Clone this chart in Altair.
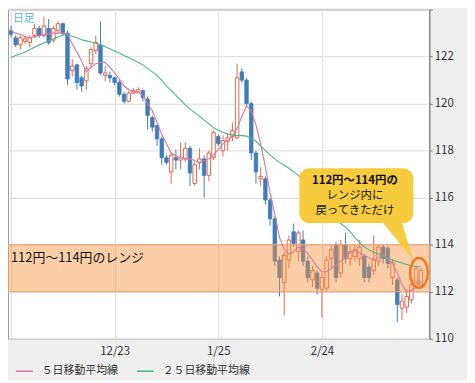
import altair as alt
import pandas as pd

FONT = "Noto Sans CJK JP"

# ---- OHLC data (daily candles) ----
opens = [123.1, 122.8, 122.5, 122.65, 122.6, 122.9, 123.2, 122.9, 123.2, 122.7,
         123.1, 123.4, 123.0, 121.4, 121.65, 121.1, 120.97, 121.7, 122.25, 122.5,
         121.2, 121.2, 121.1, 120.9, 120.4, 120.1, 120.45, 120.5, 120.55, 120.2,
         119.4, 119.07, 118.5, 117.7, 117.1, 117.7, 117.6, 117.65, 118.1, 116.6,
         117.5, 117.65, 116.95, 117.7, 118.6, 118.0, 118.4, 118.6, 118.55, 121.35,
         121.0, 120.0, 117.9, 116.8, 116.8, 115.9, 115.1, 113.35, 112.4, 113.35,
         114.55, 113.7, 114.2, 113.3, 112.5, 112.8, 112.1, 112.15, 113.4, 114.0,
         112.8, 114.0, 113.4, 113.5, 113.4, 113.5, 113.05, 112.9, 113.3, 113.9,
         113.85, 112.6, 112.5, 111.3, 111.35, 111.65, 112.4, 112.3]
highs = [123.3, 122.9, 122.9, 122.85, 122.9, 123.4, 123.3, 123.7, 123.6, 123.3,
         123.5, 123.45, 123.1, 121.9, 121.7, 121.2, 121.6, 122.4, 122.9, 123.5,
         121.6, 121.35, 121.15, 121.0, 120.5, 120.55, 120.65, 120.7, 120.6, 120.3,
         119.5, 119.1, 118.6, 117.8, 117.9, 118.05, 118.35, 118.35, 118.2, 117.5,
         118.1, 117.8, 118.0, 118.85, 118.7, 118.65, 118.75, 119.2, 121.7, 121.5,
         121.1, 120.1, 118.0, 117.3, 116.9, 116.0, 115.2, 113.5, 113.7, 114.4,
         114.9, 114.6, 114.6, 113.5, 113.1, 112.9, 112.8, 113.5, 114.0, 114.1,
         114.2, 114.5, 113.95, 114.0, 114.2, 113.6, 113.2, 114.4, 114.0, 114.0,
         113.95, 113.4, 112.6, 111.9, 112.1, 112.4, 113.1, 113.0]
lows = [122.8, 122.4, 122.3, 122.55, 122.4, 122.8, 122.8, 122.8, 122.5, 122.6,
        123.0, 122.9, 120.8, 121.15, 120.6, 120.5, 120.6, 121.5, 122.1, 121.2,
        120.95, 120.9, 120.8, 120.3, 120.0, 120.05, 120.4, 120.45, 120.1, 118.9,
        118.8, 118.2, 117.4, 117.4, 116.6, 117.2, 117.2, 117.5, 116.5, 116.5,
        117.2, 116.0, 116.7, 117.6, 118.2, 117.75, 118.0, 118.4, 118.5, 120.9,
        119.9, 117.6, 116.6, 116.5, 115.7, 114.8, 113.1, 111.8, 111.0, 113.0,
        113.9, 113.3, 113.1, 112.4, 112.2, 111.9, 110.9, 112.0, 113.0, 112.4,
        112.6, 113.2, 113.1, 113.3, 113.1, 112.4, 112.4, 112.7, 113.1, 113.2,
        113.0, 112.3, 110.7, 110.8, 111.1, 111.5, 112.3, 112.2]
closes = [122.95, 122.5, 122.8, 122.75, 122.8, 123.2, 122.9, 123.3, 122.6, 123.2,
          123.4, 123.0, 121.05, 121.6, 120.9, 120.75, 121.5, 122.3, 122.6, 121.3,
          121.3, 121.1, 120.9, 120.4, 120.1, 120.45, 120.55, 120.6, 120.25, 119.5,
          119.0, 118.5, 117.7, 117.5, 117.8, 117.6, 117.7, 118.1, 117.05, 117.4,
          117.65, 116.95, 117.9, 118.77, 118.3, 118.43, 118.55, 118.85, 121.1, 121.0,
          120.0, 117.9, 117.1, 116.9, 115.9, 115.1, 113.3, 112.6, 113.55, 114.2,
          114.05, 114.5, 113.3, 112.6, 112.9, 112.15, 112.6, 113.35, 113.8, 112.6,
          114.0, 113.4, 113.7, 113.8, 113.9, 112.6, 112.6, 113.35, 113.9, 113.4,
          113.2, 113.25, 111.45, 111.6, 111.8, 112.3, 113.0, 112.9]

# ---- moving averages as drawn ----
ma5_vals = [123.1, 123.0, 122.95, 122.85, 122.8, 122.85, 122.9, 122.95, 122.98, 123.0,
            123.0, 123.0, 122.95, 122.55, 122.2, 121.8, 121.35, 121.55, 121.7, 121.75,
            121.75, 121.55, 121.3, 121.05, 120.75, 120.6, 120.5, 120.48, 120.35, 120.0,
            119.7, 119.2, 118.7, 118.3, 117.9, 117.78, 117.7, 117.65, 117.65, 117.58,
            117.5, 117.57, 117.65, 117.8, 118.05, 118.3, 118.45, 118.6, 118.95, 119.45,
            119.9, 119.7, 119.1, 118.3, 117.3, 116.2, 115.3, 114.3, 113.8, 113.6,
            113.7, 113.9, 113.8, 113.63, 113.35, 113.06, 112.85, 112.85, 113.0, 113.15,
            113.3, 113.45, 113.65, 113.75, 113.65, 113.55, 113.45, 113.35, 113.45, 113.56,
            113.4, 113.2, 112.8, 112.3, 112.0, 112.05, 112.2, 112.45]
ma25_vals = [121.95, 122.05, 122.12, 122.2, 122.3, 122.4, 122.5, 122.58, 122.66, 122.75,
             122.85, 122.92, 122.93, 122.87, 122.8, 122.72, 122.67, 122.62, 122.57, 122.5,
             122.42, 122.33, 122.24, 122.15, 122.05, 121.95, 121.87, 121.75, 121.65, 121.5,
             121.35, 121.2, 121.0, 120.75, 120.55, 120.35, 120.15, 119.95, 119.78, 119.62,
             119.47, 119.3, 119.15, 118.97, 118.87, 118.78, 118.71, 118.66, 118.64, 118.64,
             118.62, 118.52, 118.4, 118.2, 118.0, 117.82, 117.65, 117.5, 117.38, 117.25,
             117.1, 116.95, 116.75, 116.5, 116.3, 116.05, 115.8, 115.55, 115.3, 115.1,
             114.9, 114.75, 114.55, 114.3, 114.1, 113.9, 113.78, 113.68, 113.6, 113.5,
             113.42, 113.35, 113.28, 113.22, 113.16, 113.1, 113.07, 113.06]

MA5_NAME = "５日移動平均線"
MA25_NAME = "２５日移動平均線"

x_tick_idx = [22, 44, 66]
x_tick_labels = ["12/23", "1/25", "2/24"]
y_ticks = [110, 112, 114, 116, 118, 120, 122, 124]
band_range = [112, 114]
band_label = "112円～114円のレンジ"
callout_lines = ["112円～114円の", "レンジ内に", "戻ってきただけ"]
period_label = "日足"

# annotation anchors (data units: candle index / price)
callout_box_x = [61.2, 85.4]
callout_box_y = [114.92, 117.25]
callout_text_x = [73.0, 73.0, 73.0]
callout_text_y = [116.70, 116.05, 115.42]
pointer_x = [78.7, 82.9, 85.3]
pointer_top = [115.0, 115.0, 113.39]
pointer_bot = [115.0, 113.96, 113.39]
circle_at = [86.6, 112.8]

UP = "#E2664F"
DOWN = "#3F7DBA"
PINK = "#D8779E"
GREEN = "#4DB784"
BAND = "#F7923F"
YELLOW = "#F7CB3E"
GRID = "#DCDCDC"

n = len(opens)
df = pd.DataFrame({"idx": list(range(n)), "open": opens, "high": highs,
                   "low": lows, "close": closes,
                   MA5_NAME: ma5_vals, MA25_NAME: ma25_vals})

xs = alt.Scale(domain=[-0.63, 88.8], nice=False, zero=False)
ys = alt.Scale(domain=[110, 124], nice=False, zero=False)

label_expr = " : ".join(
    [f"datum.value == {v} ? '{t}'" for v, t in zip(x_tick_idx, x_tick_labels)]) + " : ''"

x_axis = alt.Axis(values=[0] + x_tick_idx, labelExpr=label_expr, grid=True,
                  gridColor=GRID, ticks=False, domain=False, title=None,
                  labelFont=FONT, labelFontSize=11.5, labelColor="#333",
                  labelPadding=7)
y_axis = alt.Axis(orient="right", values=y_ticks, format="d",
                  labelExpr="datum.value >= 124 ? '' : datum.label",
                  grid=True, gridColor=GRID, domainColor="#777", tickColor="#777",
                  tickSize=3, title=None, labelFont=FONT, labelFontSize=11.5,
                  labelColor="#333", labelPadding=2)


def X(field):
    return alt.X(field, scale=xs, axis=x_axis)


def Y(field):
    return alt.Y(field, scale=ys, axis=y_axis)


base = alt.Chart(df)

wicks = base.mark_rule(strokeWidth=1).encode(
    x=X("idx:Q"), y=Y("low:Q"), y2="high:Q",
    color=alt.condition("datum.close >= datum.open", alt.value(UP), alt.value(DOWN)),
)

bodies = base.transform_calculate(
    x0="datum.idx - 0.37", x1="datum.idx + 0.37",
    lo="min(datum.open, datum.close)", hi="max(datum.open, datum.close)")

down_bodies = bodies.transform_filter("datum.close < datum.open").mark_rect(
    fill=DOWN, stroke=DOWN, strokeWidth=0.8).encode(
    x=X("x0:Q"), x2="x1:Q", y=Y("lo:Q"), y2="hi:Q")

up_bodies = bodies.transform_filter("datum.close >= datum.open").mark_rect(
    fill="white", stroke=UP, strokeWidth=1).encode(
    x=X("x0:Q"), x2="x1:Q", y=Y("lo:Q"), y2="hi:Q")

band_df = pd.DataFrame({"lo": [band_range[0]], "hi": [band_range[1]]})
band = alt.Chart(band_df).mark_rect(fill=BAND, fillOpacity=0.45, stroke="#F0A070",
                                    strokeWidth=1).encode(
    x=alt.value(0), x2=alt.value(425), y=Y("lo:Q"), y2="hi:Q")

lines = base.transform_fold([MA5_NAME, MA25_NAME], as_=["series", "value"]).mark_line(
    strokeWidth=1.1).encode(
    x=X("idx:Q"), y=Y("value:Q"),
    color=alt.Color("series:N",
                    scale=alt.Scale(domain=[MA5_NAME, MA25_NAME], range=[PINK, GREEN]),
                    legend=alt.Legend(orient="none", legendX=7, legendY=355,
                                      direction="horizontal", title=None,
                                      symbolType="stroke", symbolSize=289,
                                      symbolStrokeWidth=1.5, labelFont=FONT,
                                      labelFontSize=11, labelColor="#333",
                                      labelOffset=8, columnPadding=16)),
)

band_text = alt.Chart(pd.DataFrame({"x": [0.0], "y": [113.43], "t": [band_label]})).mark_text(
    align="left", baseline="middle", font=FONT, fontSize=13, color="#111").encode(
    x=X("x:Q"), y=Y("y:Q"), text="t:N")

pointer = alt.Chart(pd.DataFrame({"x": pointer_x, "y": pointer_top, "y2": pointer_bot})).mark_area(
    color=YELLOW, opacity=1).encode(x=X("x:Q"), y=Y("y:Q"), y2="y2:Q")

box = alt.Chart(pd.DataFrame({"x": [callout_box_x[0]], "x2": [callout_box_x[1]],
                              "y": [callout_box_y[0]], "y2": [callout_box_y[1]]})).mark_rect(
    fill=YELLOW, cornerRadius=10).encode(x=X("x:Q"), x2="x2:Q", y=Y("y:Q"), y2="y2:Q")

ct = pd.DataFrame({"x": callout_text_x, "y": callout_text_y, "t": callout_lines,
                   "w": ["bold", "normal", "normal"]})
callout_bold = alt.Chart(ct).transform_filter("datum.w == 'bold'").mark_text(
    align="center", baseline="middle", font=FONT, fontSize=11.5, fontWeight="bold",
    color="#111").encode(x=X("x:Q"), y=Y("y:Q"), text="t:N")
callout_norm = alt.Chart(ct).transform_filter("datum.w != 'bold'").mark_text(
    align="center", baseline="middle", font=FONT, fontSize=11.5, color="#111").encode(
    x=X("x:Q"), y=Y("y:Q"), text="t:N")

ellipse = alt.Chart(pd.DataFrame({"x": [circle_at[0]], "y": [circle_at[1]]})).mark_point(
    shape="M0,-1A0.6,1 0 1,1 0,1A0.6,1 0 1,1 0,-1Z", size=900, filled=False,
    stroke="#F07820", strokeWidth=2.5, opacity=1).encode(x=X("x:Q"), y=Y("y:Q"))

period = alt.Chart(pd.DataFrame({"t": [period_label]})).mark_text(
    align="left", baseline="top", font=FONT, fontSize=11, color="#55B5E5").encode(
    x=alt.value(5), y=alt.value(3), text="t:N")

chart = alt.layer(
    wicks, down_bodies, up_bodies, band, lines, band_text,
    pointer, box, callout_bold, callout_norm, ellipse, period
).properties(
    width=425, height=332,
    padding={"left": 0, "top": 0, "right": 38, "bottom": 40},
    autosize=alt.AutoSizeParams(type="none"),
    background="#EFEFEF",
).configure_view(fill="white", stroke="#9A9A9A")

chart.save("out.html", embed_options={"renderer": "svg", "actions": False})
